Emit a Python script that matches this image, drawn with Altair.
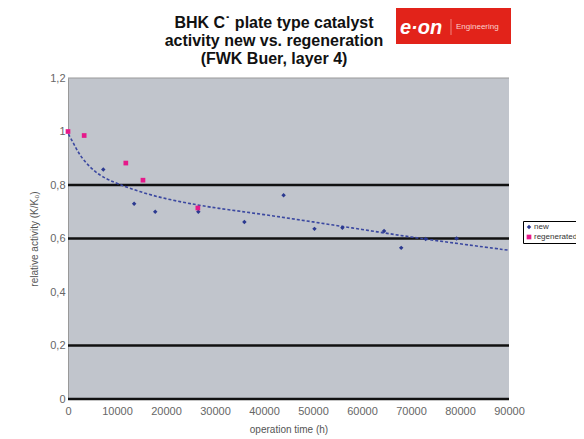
import altair as alt
import pandas as pd

new_time = [7200, 13500, 17800, 26600, 36000, 44000, 50300, 56000, 64500, 68000, 73000, 79300]
new_act = [0.858, 0.730, 0.700, 0.700, 0.662, 0.762, 0.636, 0.640, 0.628, 0.565, 0.598, 0.600]

regen_time = [0, 3300, 11800, 15300, 26500]
regen_act = [1.0, 0.985, 0.882, 0.818, 0.714]

trend_time = [100, 1000, 2000, 3000, 5000, 7000, 10000, 15000, 20000, 25000, 30000, 40000, 50000, 60000, 70000, 80000, 90000]
trend_act = [0.99, 0.96, 0.925, 0.897, 0.857, 0.83, 0.805, 0.772, 0.748, 0.73, 0.714, 0.69, 0.662, 0.634, 0.605, 0.58, 0.556]

grid_levels = [0, 0.2, 0.6, 0.8]
y_ticks = [0, 0.2, 0.4, 0.6, 0.8, 1, 1.2]
x_ticks = [0, 10000, 20000, 30000, 40000, 50000, 60000, 70000, 80000, 90000]

title_lines = ["BHK C˙ plate type catalyst", "activity new vs. regeneration", "(FWK Buer, layer 4)"]

FONT = "Liberation Sans"
BLUE = "#2b3990"
PINK = "#e6198a"

pts = pd.DataFrame({
    "t": new_time + regen_time,
    "a": new_act + regen_act,
    "s": ["new"] * len(new_time) + ["regenerated"] * len(regen_time),
})
trend = pd.DataFrame({"t": trend_time, "a": trend_act})
grid = pd.DataFrame({"g": grid_levels})

xs = alt.Scale(domain=[0, 90000], nice=False)
ys = alt.Scale(domain=[0, 1.2], nice=False)

x_axis = alt.Axis(values=x_ticks, format="d", grid=False, domain=False, ticks=False, labelFlush=False,
                  labelFont=FONT, labelFontSize=11, labelColor="#666", labelPadding=6,
                  title="operation time (h)", titleFont=FONT, titleFontSize=10,
                  titleFontWeight="normal", titleColor="#555", titlePadding=8)
y_axis = alt.Axis(values=y_ticks, grid=False, domain=True, domainColor="#999", ticks=False,
                  labelExpr="replace(toString(datum.value), '.', ',')",
                  labelFont=FONT, labelFontSize=11, labelColor="#666", labelPadding=3,
                  title="relative activity (K/K₀)", titleFont=FONT, titleFontSize=10,
                  titleFontWeight="normal", titleColor="#555", titlePadding=10)

rules = alt.Chart(grid).mark_rule(color="#111", strokeWidth=2.5).encode(
    y=alt.Y("g:Q", scale=ys, axis=y_axis)
)
top = alt.Chart(pd.DataFrame({"g": [1.2]})).mark_rule(color="#999", strokeWidth=1).encode(
    y=alt.Y("g:Q", scale=ys)
)

trend_line = alt.Chart(trend).mark_line(color="#3b48a0", strokeDash=[3, 2], strokeWidth=1.6,
                                        interpolate="basis").encode(
    x=alt.X("t:Q", scale=xs, axis=x_axis),
    y=alt.Y("a:Q", scale=ys),
)

points = alt.Chart(pts).mark_point(filled=True, opacity=1).encode(
    x=alt.X("t:Q", scale=xs),
    y=alt.Y("a:Q", scale=ys),
    color=alt.Color("s:N", scale=alt.Scale(domain=["new", "regenerated"], range=[BLUE, PINK]),
                    legend=alt.Legend(title=None, orient="none", legendX=455, legendY=143,
                                      fillColor="white", strokeColor="#000", padding=2,
                                      labelFont=FONT, labelFontSize=8, labelColor="#333",
                                      symbolSize=12, rowPadding=2, labelOffset=1)),
    shape=alt.Shape("s:N", scale=alt.Scale(domain=["new", "regenerated"], range=["diamond", "square"]),
                    legend=None),
    size=alt.Size("s:N", scale=alt.Scale(domain=["new", "regenerated"], range=[20, 22]), legend=None),
)

title_layers = []
for line, ypos in zip(title_lines, [-50, -32, -14]):
    title_layers.append(
        alt.Chart(pd.DataFrame({"line": [line]})).mark_text(
            font=FONT, fontSize=16, fontWeight="bold", color="#111", align="center", baseline="alphabetic"
        ).encode(text="line:N", x=alt.value(206), y=alt.value(ypos))
    )

# logo
logo_bg = alt.Chart(pd.DataFrame({"k": [0]})).mark_rect(color="#e2231a").encode(
    x=alt.value(328), x2=alt.value(443), y=alt.value(-70), y2=alt.value(-34)
)
logo_text = alt.Chart(pd.DataFrame({"k": ["e·on"]})).mark_text(
    color="white", font=FONT, fontSize=20, fontWeight="bold", fontStyle="italic", align="left", baseline="alphabetic"
).encode(text="k:N", x=alt.value(332), y=alt.value(-44))
logo_sep = alt.Chart(pd.DataFrame({"k": [0]})).mark_rule(color="#f4a09a", strokeWidth=0.8).encode(
    x=alt.value(383), y=alt.value(-59), y2=alt.value(-43)
)
logo_eng = alt.Chart(pd.DataFrame({"k": ["Engineering"]})).mark_text(
    color="#fbd0cc", font=FONT, fontSize=8, align="left", baseline="middle"
).encode(text="k:N", x=alt.value(388), y=alt.value(-51))

chart = alt.layer(rules, top, trend_line, points, *title_layers, logo_bg, logo_text, logo_sep, logo_eng).properties(
    width=441, height=321,
    autosize=alt.AutoSizeParams(type="none"),
    padding={"left": 60, "top": 70, "right": 67, "bottom": 40},
).configure_view(fill="#c1c5cc", stroke=None)

chart.save("out.html", embed_options={"renderer": "svg", "actions": False})
